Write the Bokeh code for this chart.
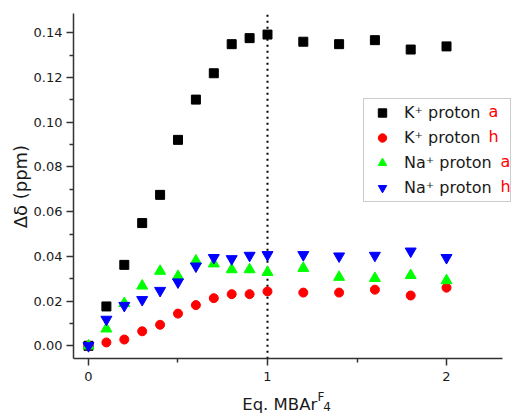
import math
from bokeh.plotting import figure
from bokeh.models import (FixedTicker, NumeralTickFormatter, Label, Legend,
                          LegendItem, Range1d)
from bokeh.embed import file_html
from bokeh.resources import INLINE

# ---- data ----
eq = [0, 0.1, 0.2, 0.3, 0.4, 0.5, 0.6, 0.7, 0.8, 0.9, 1.0, 1.2, 1.4, 1.6, 1.8, 2.0]
k_a = [0.0, 0.0176, 0.0362, 0.0549, 0.0675, 0.0921, 0.1101, 0.1219, 0.1349, 0.1376,
       0.1392, 0.1360, 0.1349, 0.1367, 0.1325, 0.1339]
k_h = [0.0, 0.0015, 0.0028, 0.0065, 0.0094, 0.0144, 0.0182, 0.0213, 0.0231, 0.0231,
       0.0243, 0.0238, 0.0238, 0.0251, 0.0225, 0.0260]
na_a = [0.0, 0.0076, 0.0190, 0.0268, 0.0334, 0.0311, 0.0380, 0.0367, 0.0341, 0.0341,
        0.0329, 0.0347, 0.0307, 0.0302, 0.0315, 0.0292]
na_h = [0.0, 0.0118, 0.0180, 0.0206, 0.0247, 0.0285, 0.0356, 0.0394, 0.0389, 0.0404,
        0.0407, 0.0407, 0.0401, 0.0404, 0.0423, 0.0394]
x_ticks = [0, 1, 2]
x_minor = [0.5, 1.5]
y_ticks = [0.00, 0.02, 0.04, 0.06, 0.08, 0.10, 0.12, 0.14]
y_minor = [0.01, 0.03, 0.05, 0.07, 0.09, 0.11, 0.13]
x_axis_span = (-0.084, 2.313)
y_axis_span = (-0.0058, 0.1486)
marker_line = 1.0  # vertical dotted line at 1 equivalent
series_names = ["K\u207a proton", "K\u207a proton", "Na\u207a proton", "Na\u207a proton"]
series_tags = ["a", "h", "a", "h"]

FONT = "DejaVu Sans"
TXT = "#1a1a1a"

p = figure(width=512, height=415, min_border=0,
           x_range=Range1d(-0.4916, 2.3687), y_range=Range1d(-0.03117, 0.15443),
           output_backend="svg", toolbar_location=None)
p.grid.visible = False
p.outline_line_color = None
p.background_fill_color = "white"
p.border_fill_color = "white"

xa = p.xaxis[0]
ya = p.yaxis[0]
xa.fixed_location = y_axis_span[0]
ya.fixed_location = x_axis_span[0]
xa.bounds = x_axis_span
ya.bounds = y_axis_span

for ax in (xa, ya):
    ax.axis_line_color = "#333333"
    ax.axis_line_width = 1.5
    ax.major_tick_line_color = "#333333"
    ax.minor_tick_line_color = "#333333"
    ax.major_tick_line_width = 1.5
    ax.minor_tick_line_width = 1.5
    ax.major_tick_out = 7
    ax.major_tick_in = 0
    ax.minor_tick_out = 4
    ax.minor_tick_in = 0
    ax.major_label_text_font = FONT
    ax.major_label_text_font_size = "13px"
    ax.major_label_text_color = TXT

xa.ticker = FixedTicker(ticks=x_ticks, minor_ticks=x_minor)
ya.ticker = FixedTicker(ticks=y_ticks, minor_ticks=y_minor)
ya.formatter = NumeralTickFormatter(format="0.00")
xa.major_label_standoff = 6
ya.major_label_standoff = 4

p.segment(x0=[marker_line], y0=[y_axis_span[0]], x1=[marker_line], y1=[y_axis_span[1]],
          line_color="black", line_dash="2 4", line_width=2)

r1 = p.scatter(eq, k_a, marker="square", size=9, color="black")
r2 = p.scatter(eq, k_h, marker="circle", size=9, color="#ff0000")
r3 = p.scatter(eq, na_a, marker="triangle", size=11, color="#00ff00")
r4 = p.scatter(eq, na_h, marker="inverted_triangle", size=11, color="#0000ff")

legend = Legend(items=[LegendItem(label=n, renderers=[r]) for n, r in
                       zip(series_names, [r1, r2, r3, r4])],
                location=(363, 213), orientation="vertical",
                label_text_font=FONT, label_text_font_size="16px",
                label_text_color=TXT,
                glyph_width=30, glyph_height=21, label_height=21, label_width=103,
                label_standoff=7, spacing=4, padding=3, margin=0,
                border_line_color="#999999", border_line_width=1,
                background_fill_alpha=0)
p.add_layout(legend, "center")

# red tags after legend labels
tag_x = [2.2346, 2.2346, 2.3017, 2.3017]
tag_y = [0.1049, 0.0937, 0.0825, 0.0714]
for t, xx, yy in zip(series_tags, tag_x, tag_y):
    p.add_layout(Label(x=xx, y=yy, text=t, text_color="#ff0000", text_font=FONT,
                       text_font_size="16px", text_baseline="middle",
                       text_align="left", level="overlay"))

# axis titles
p.add_layout(Label(x=-0.3799, y=0.0712, text="\u0394\u03b4 (ppm)", angle=math.pi / 2,
                   text_font=FONT, text_font_size="18px", text_color=TXT,
                   text_align="center", text_baseline="middle", level="overlay"))
p.add_layout(Label(x=0.8587, y=-0.02627, text="Eq. MBAr", text_font=FONT,
                   text_font_size="16.5px", text_color=TXT,
                   text_align="left", text_baseline="alphabetic", level="overlay"))
p.add_layout(Label(x=1.279, y=-0.02296, text="F", text_font=FONT,
                   text_font_size="12px", text_color=TXT,
                   text_align="left", text_baseline="alphabetic", level="overlay"))
p.add_layout(Label(x=1.311, y=-0.02714, text="4", text_font=FONT,
                   text_font_size="12px", text_color=TXT,
                   text_align="left", text_baseline="alphabetic", level="overlay"))

open("out.html", "w").write(file_html(p, INLINE))
